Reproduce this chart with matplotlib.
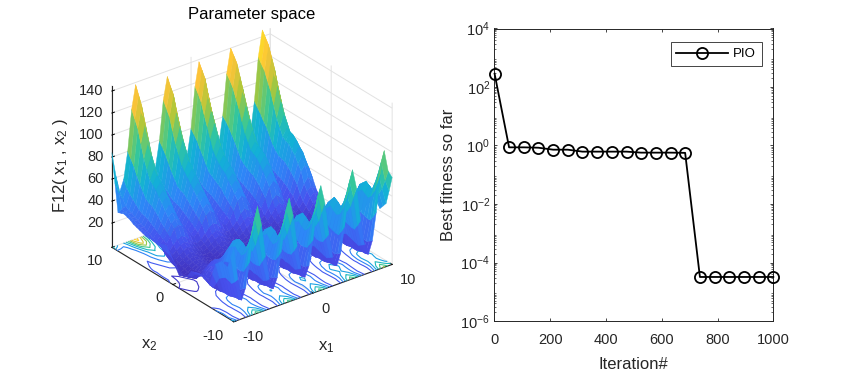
import numpy as np
import matplotlib
matplotlib.use("Agg")
import matplotlib.pyplot as plt
from matplotlib.colors import LinearSegmentedColormap, Normalize
from matplotlib.ticker import LogLocator, NullFormatter

plt.rcParams['font.family'] = ['Liberation Sans', 'DejaVu Sans']
plt.rcParams['mathtext.default'] = 'regular'
plt.rcParams['mathtext.fontset'] = 'custom'
plt.rcParams['mathtext.rm'] = 'Liberation Sans'
plt.rcParams['mathtext.it'] = 'Liberation Sans'
plt.rcParams['axes.unicode_minus'] = False
plt.rcParams['grid.color'] = '#e2e2e2'
plt.rcParams['grid.linewidth'] = 0.7

# ---- convergence curve ----
iterations = [1, 53, 106, 158, 211, 263, 316, 369, 421, 474, 526, 579, 632, 684, 737, 790, 842, 895, 947, 1000]
fitness = [285, 0.865, 0.865, 0.84, 0.72, 0.72, 0.617, 0.617, 0.617, 0.617, 0.57, 0.57, 0.57, 0.56,
           3.2e-5, 3.2e-5, 3.2e-5, 3.2e-5, 3.2e-5, 3.2e-5]

# ---- surface heights ----
x1_grid = [-10, -9.5, -9, -8.5, -8, -7.5, -7, -6.5, -6, -5.5, -5, -4.5, -4, -3.5, -3, -2.5, -2, -1.5, -1, -0.5,
           0, 0.5, 1, 1.5, 2, 2.5, 3, 3.5, 4, 4.5, 5, 5.5, 6, 6.5, 7, 7.5, 8, 8.5, 9, 9.5, 10]
x2_grid = list(x1_grid)
heights = [
 [65,35,15,25,47,77,95,77,47,25,15,24,46,75,92,75,46,24,15,24,46,76,93,76,46,24,15,25,48,79,97,79,48,25,15,26,51,84,104,84,77],
 [54,31,14,22,41,66,82,66,41,22,14,22,40,65,80,65,40,22,14,22,41,66,82,66,41,22,14,23,42,69,85,69,42,23,14,24,45,74,92,74,63],
 [44,28,14,20,35,55,66,55,35,20,14,20,35,55,66,55,35,20,14,20,36,56,68,56,36,20,14,21,37,59,72,59,37,21,14,22,40,65,80,65,50],
 [45,29,13,21,34,48,56,48,34,21,13,21,34,48,56,48,34,21,13,21,35,50,58,50,35,21,13,22,37,53,62,53,37,22,13,23,40,59,70,59,46],
 [46,30,12,22,34,45,50,45,34,22,12,22,34,45,50,45,34,22,12,22,35,47,52,47,35,22,12,23,38,51,56,51,38,23,12,25,41,56,62,56,42],
 [43,28,12,22,35,47,52,47,35,22,12,22,35,47,52,47,35,22,12,23,37,49,55,49,37,23,12,24,39,53,59,53,39,24,12,25,42,58,64,58,46],
 [40,26,12,23,37,50,55,50,37,23,12,23,38,51,56,51,38,23,12,24,39,52,58,52,39,24,12,25,41,56,62,56,41,25,12,26,43,60,66,60,50],
 [29,20,11,22,35,48,53,48,35,22,11,22,36,48,53,48,36,22,11,23,37,50,55,50,37,23,11,23,38,52,58,52,38,23,11,25,41,57,63,57,44],
 [18,14,11,21,34,45,50,45,34,21,11,21,34,45,50,45,34,21,11,22,35,47,52,47,35,22,11,22,36,49,54,49,36,22,11,23,39,54,60,54,39],
 [20,15,12,20,30,40,44,40,30,20,12,20,30,40,44,40,30,20,12,20,31,41,45,41,31,20,12,21,32,43,47,43,32,21,12,22,35,47,52,47,35],
 [21,16,13,19,27,34,37,34,27,19,13,19,27,34,37,34,27,19,13,19,28,35,38,35,28,19,13,20,29,37,40,37,29,20,13,21,31,40,44,40,31],
 [22,18,15,20,25,30,32,30,25,20,15,20,25,30,32,30,25,20,15,20,25,30,33,30,25,20,15,20,26,32,34,32,26,20,15,21,28,34,37,34,28],
 [22,19,17,20,23,26,27,26,23,20,17,20,23,26,27,26,23,20,17,20,23,26,27,26,23,20,17,20,23,26,27,26,23,20,17,20,25,28,30,28,25],
 [21,18,15,18,21,24,25,24,21,18,15,18,21,24,25,24,21,18,15,18,21,24,25,24,21,18,15,18,21,24,25,24,21,18,15,18,22,25,27,25,22],
 [20,16,13,16,19,22,23,22,19,16,13,16,19,22,23,22,19,16,13,16,19,22,23,22,19,16,13,16,19,22,23,22,19,16,13,16,19,22,24,22,19],
 [15,12,9,11,13,16,17,16,13,11,9,11,13,16,17,16,13,11,9,11,13,16,17,16,13,11,9,11,13,16,17,16,13,11,9,11,14,17,19,17,14],
 [12,10,8,9,11,13,14,13,11,9,8,9,11,13,14,13,11,9,8,9,11,13,14,13,11,9,8,9,11,13,14,13,11,9,8,9,11,14,16,14,11],
 [11,9,7,8,10,12,13,12,10,8,7,8,10,12,13,12,10,8,7,8,10,12,13,12,10,8,7,8,10,12,13,12,10,8,7,8,10,13,15,13,10],
 [10,8,6,7,9,11,12,11,9,7,6,7,9,11,12,11,9,7,6,7,9,11,12,11,9,7,6,7,9,11,12,11,9,7,6,7,9,12,14,12,9],
 [15,10,6,7,9,11,12,11,9,7,6,7,9,11,12,11,9,7,6,7,9,11,12,11,9,7,6,7,9,11,12,11,9,7,6,7,10,13,15,13,10],
 [20,13,7,8,10,12,13,12,10,8,7,8,10,12,13,12,10,8,7,8,10,12,13,12,10,8,7,8,10,12,13,12,10,8,7,8,11,15,17,15,11],
 [25,16,8,9,11,13,14,13,11,9,8,9,11,13,14,13,11,9,8,9,11,13,14,13,11,9,8,9,11,13,15,13,11,9,8,9,12,17,20,17,12],
 [30,19,9,10,12,14,16,14,12,10,9,10,12,14,16,14,12,10,9,10,12,14,16,14,12,10,9,10,13,16,18,16,13,10,9,10,14,20,23,20,14],
 [29,20,10,12,14,17,19,17,14,12,10,12,14,17,19,17,14,12,10,12,14,17,20,17,14,12,10,12,15,19,22,19,15,12,10,12,17,24,27,24,17],
 [28,21,12,14,17,20,22,20,17,14,12,14,17,20,22,20,17,14,12,14,18,22,24,22,18,14,12,14,18,23,26,23,18,14,12,15,20,28,31,28,20],
 [28,22,14,16,20,24,26,24,20,16,14,16,20,25,27,25,20,16,14,17,21,27,30,27,21,17,14,17,22,29,32,29,22,17,14,18,25,33,38,33,25],
 [28,23,18,21,26,32,34,32,26,21,18,21,27,34,37,34,27,21,18,22,29,37,40,37,29,22,18,22,30,39,43,39,30,22,18,23,32,43,47,43,32],
 [27,23,19,23,28,35,38,35,28,23,19,23,30,38,41,38,30,23,19,24,32,41,45,41,32,24,19,24,34,44,49,44,34,24,19,25,36,48,53,48,36],
 [27,24,21,25,31,39,42,39,31,25,21,26,33,42,46,42,33,26,21,26,35,46,50,46,35,26,21,27,38,50,55,50,38,27,21,28,40,54,60,54,40],
 [27,25,22,27,34,43,47,43,34,27,22,28,36,46,50,46,36,28,22,28,38,50,55,50,38,28,22,29,41,54,60,54,41,29,22,30,43,57,64,57,43],
 [28,26,24,29,38,48,52,48,38,29,24,30,39,50,55,50,39,30,24,30,42,55,60,55,42,30,24,31,44,58,64,58,44,31,24,32,46,61,68,61,46],
 [29,27,25,31,41,52,57,52,41,31,25,32,42,54,60,54,42,32,25,32,44,57,63,57,44,32,25,32,45,60,66,60,45,32,25,33,47,62,69,62,47],
 [30,28,27,33,44,57,62,57,44,33,27,34,45,58,64,58,45,34,27,34,46,60,66,60,46,34,27,34,47,62,68,62,47,34,27,35,48,64,70,64,48],
 [31,29,28,34,45,60,67,60,45,34,28,35,46,62,70,62,46,35,28,35,48,64,73,64,48,35,28,35,49,68,77,68,49,35,28,36,51,71,81,71,51],
 [33,31,30,35,47,63,72,63,47,35,30,36,48,66,76,66,48,36,30,36,50,69,80,69,50,36,30,37,52,74,86,74,52,37,30,37,55,78,92,78,55],
 [34,32,31,37,52,71,82,71,52,37,31,38,53,74,86,74,53,38,31,38,55,78,91,78,55,38,31,39,58,83,98,83,58,39,31,40,61,88,105,88,61],
 [35,34,33,40,57,79,92,79,57,40,33,41,58,82,96,82,58,41,33,41,61,87,102,87,61,41,33,42,64,93,110,93,64,42,33,43,67,99,118,99,67],
 [34,34,34,43,63,91,107,91,63,43,34,43,64,92,109,92,64,43,34,44,66,96,114,96,66,44,34,44,69,101,120,101,69,44,34,45,71,106,127,106,71],
 [33,35,36,46,70,103,122,103,70,46,36,46,70,103,122,103,70,46,36,47,72,106,126,106,72,47,36,47,74,109,130,109,74,47,36,48,76,114,136,114,76],
 [58,48,41,50,75,110,130,110,75,50,41,50,75,109,128,109,75,50,41,51,76,112,132,112,76,51,41,51,78,114,135,114,78,51,41,51,80,118,141,118,83],
 [84,62,46,56,80,117,138,117,80,56,46,56,79,115,135,115,79,56,46,56,80,117,138,117,80,56,46,56,81,118,140,118,81,56,46,56,84,123,146,123,90],
]
z_ticks = [20, 40, 60, 80, 100, 120, 140]
xy_ticks = [-10, 0, 10]
contour_levels = [10, 25, 40, 55, 70, 85, 100, 115, 130]

parula_anchor = ['#3e26a8', '#4750ee', '#2d87f7', '#12b1d6', '#37c897', '#abc739', '#fec338', '#f9fb0e']
parula = LinearSegmentedColormap.from_list('parula_like', parula_anchor)
TXT = '#262626'

fig = plt.figure(figsize=(8.67, 3.71), dpi=100)
W, H = 867, 371

# ---- left 3D panel ----
side = 327
cx, cy = 247.6, 179.4
ax = fig.add_axes([(cx - side / 2) / W, 1 - (cy + side / 2) / H, side / W, side / H],
                  projection='3d', computed_zorder=False, proj_type='ortho')
ax.patch.set_alpha(0)
ax.view_init(elev=28, azim=-127.6)
ax.set_box_aspect((199.6, 199.6, 183))
X, Y = np.meshgrid(x1_grid, x2_grid)
Z = np.array(heights, dtype=float)
zfloor = -2
norm = Normalize(0, 146)
face_z = (Z[:-1, :-1] + Z[1:, :-1] + Z[:-1, 1:] + Z[1:, 1:]) / 4
ax.contour(X, Y, Z, levels=contour_levels, zdir='z', offset=zfloor, cmap=parula,
           vmin=0, vmax=146, linewidths=0.8, zorder=1)
ax.plot_surface(X, Y, Z, rstride=1, cstride=1, facecolors=parula(norm(face_z)),
                linewidth=0.3, antialiased=True, shade=False, zorder=2)
ax.set_xlim(-10, 10)
ax.set_ylim(-10, 10)
ax.set_zlim(zfloor, 145)
ax.set_xticks(xy_ticks)
ax.set_yticks(xy_ticks)
ax.set_zticks(z_ticks)
ax.set_xticklabels([])
ax.set_yticklabels([])
ax.set_zticklabels([])
for axis in (ax.xaxis, ax.yaxis, ax.zaxis):
    axis.set_pane_color((1, 1, 1, 0))
    axis.pane.set_edgecolor((1, 1, 1, 0))
    axis.line.set_color(TXT)
    axis.line.set_linewidth(0.8)
    axis._axinfo['tick']['inward_factor'] = 0.0
    axis._axinfo['tick']['outward_factor'] = 0.2
    axis._axinfo['tick']['linewidth'] = {True: 0.7, False: 0.5}
    axis._axinfo['tick']['color'] = TXT


def px_text(x, y, s, **kw):
    kw.setdefault('color', TXT)
    kw.setdefault('ha', 'center')
    kw.setdefault('va', 'center')
    fig.text(x / W, 1 - y / H, s, **kw)


for v in z_ticks:
    px_text(103.5, 90.7 + (140 - v) * 22.05 / 20, str(v), fontsize=10.5, ha='right')
px_text(253, 337, '-10', fontsize=10.5)
px_text(325, 309, '0', fontsize=10.5)
px_text(408, 280, '10', fontsize=10.5)
px_text(95, 261, '10', fontsize=10.5)
px_text(159, 298, '0', fontsize=10.5)
px_text(213, 336, '-10', fontsize=10.5)

px_text(252, 15, 'Parameter space', fontsize=12, color='black')
px_text(326, 347, 'x$_1$', fontsize=12)
px_text(149, 345, 'x$_2$', fontsize=12)
px_text(60, 166, 'F12( x$_1$ , x$_2$ )', fontsize=12, rotation=90)

# ---- right convergence panel ----
ax2 = fig.add_axes([494.3 / W, 1 - 321 / H, 279 / W, 292.5 / H])
ax2.semilogy(iterations, fitness, '-o', color='black', lw=1.3, ms=8, mfc='none', mew=1.3,
             label='PIO', clip_on=False, zorder=3)
ax2.set_xlim(0, 1000)
ax2.set_ylim(1e-6, 1e4)
ax2.set_xticks([0, 200, 400, 600, 800, 1000])
ax2.set_yticks([1e-6, 1e-4, 1e-2, 1e0, 1e2, 1e4])
ax2.tick_params(which='major', direction='in', top=True, right=True, length=2.2, width=0.6,
                labelsize=10.5, colors=TXT, pad=3)
ax2.tick_params(axis='x', which='major', pad=9)
ax2.tick_params(which='minor', direction='in', top=False, right=True, length=1.4, width=0.4)
ax2.yaxis.set_minor_locator(LogLocator(base=10, subs=range(2, 10), numticks=20))
ax2.yaxis.set_minor_formatter(NullFormatter())
for s in ax2.spines.values():
    s.set_linewidth(0.7)
    s.set_color(TXT)
ax2.set_xlabel('Iteration#', fontsize=12, color=TXT, labelpad=7)
ax2.set_ylabel('Best fitness so far', fontsize=12, color=TXT, labelpad=3)
leg = ax2.legend(loc='upper right', bbox_to_anchor=(762 / W, 1 - 42 / H), bbox_transform=fig.transFigure,
                 fontsize=9.5, fancybox=False, framealpha=1, edgecolor=TXT, borderaxespad=0,
                 borderpad=0.45, handlelength=3.9, handletextpad=0.4)
leg.get_frame().set_linewidth(0.6)

fig.savefig('out.png', dpi=100)
